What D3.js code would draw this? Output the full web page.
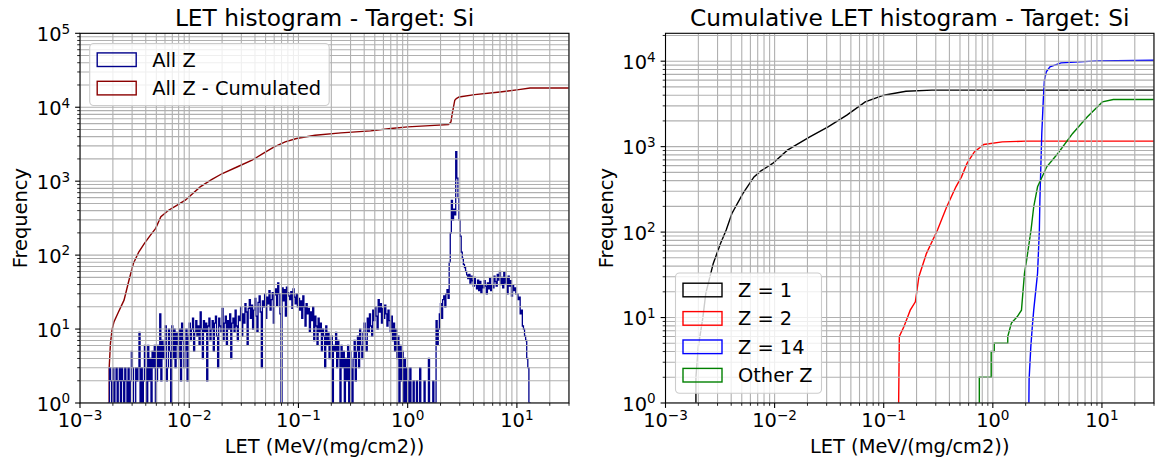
<!DOCTYPE html>
<html><head><meta charset="utf-8">
<script src="https://cdn.jsdelivr.net/npm/d3@7"></script>
<style>
body{margin:0;background:#fff;}
svg{display:block;font-family:"DejaVu Sans",sans-serif;}
</style></head><body>
<svg id="chart" width="1155" height="461"></svg>
<script>
// ---------------- data ----------------
const xDomain = [1e-3, 30];
const leftYDomain = [1, 1e5];
const rightYDomain = [1, 21200];
const xMajorTicks = [1e-3, 1e-2, 1e-1, 1, 10];
const leftYMajorTicks = [1, 10, 100, 1e3, 1e4, 1e5];
const rightYMajorTicks = [1, 10, 100, 1e3, 1e4];

const titles = ["LET histogram - Target: Si", "Cumulative LET histogram - Target: Si"];
const xLabel = "LET (MeV/(mg/cm2))";
const yLabel = "Frequency";

// All Z histogram: counts per logarithmic bin, 100 bins per decade starting at 1e-3
const histBinsPerDecade = 100;
const allZCountsD1 = [ // 1e-3 .. 1e-2
  0,0,0,0,0,0,0,0,0,0, 0,0,0,0,0,0,0,0,0,0, 0,0,0,0,0,0,1,3,2,0,
  3,1,2,3,0,2,3,1,3,2, 0,3,2,1,3,0,2,5,3,1, 0,3,2,3,9,1,3,0,2,6,
  3,1,6,2,4,1,5,3,6,0, 2,6,3,16,2,7,4,6,11,2, 3,10,5,1,11,4,10,3,9,6,
  4,10,2,12,7,3,5,10,2,8
];
const allZCountsD2 = [ // 1e-2 .. 1e-1
  12,7,10,14,5,9,13,8,11,6, 17,10,4,13,9,12,2,11,14,7,
  10,13,5,12,15,8,3,14,11,9, 19,7,12,15,6,13,10,16,4,12,
  14,9,18,11,7,15,13,20,8,16, 12,22,17,6,19,25,14,21,10,18,
  26,15,9,23,28,17,3,24,20,30, 14,27,22,33,18,25,31,12,29,35,
  21,42,30,16,1,36,24,34,15,37, 31,28,25,32,19,35,27,22,30,20
];
const allZCountsD3 = [ // 1e-1 .. 1
  26,18,24,14,28,20,11,22,16,19, 9,17,13,20,7,15,11,6,14,9,
  12,5,10,8,3,11,6,9,4,7, 8,0,6,5,9,3,7,4,0,6,
  3,5,0,4,2,6,0,5,3,0, 4,7,2,5,8,3,10,6,4,9,
  12,7,5,14,9,16,11,8,18,13, 20,15,10,25,17,22,12,19,14,21,
  16,11,18,13,9,15,7,12,5,10, 4,8,1,6,2,5,0,4,0,3
];
const allZCountsD4 = [ // 1 .. 10
  2,0,3,1,0,2,1,0,2,0, 1,3,0,1,0,2,0,1,0,4,
  0,1,0,2,1,0,13,6,10,16, 22,14,25,28,20,30,34,26,80,200,
  550,300,420,350,2500,1100,600,300,180,110, 90,75,68,60,54,48,55,42,52,45,
  38,50,40,35,46,33,44,31,40,36, 45,38,30,42,35,48,33,40,36,52,
  44,38,55,46,60,40,50,36,58,42, 48,30,52,38,45,28,40,33,36,30
];
const allZCountsD5 = [ // 10 .. 30
  30,25,27,16,18,11,10,8,7,4, 3,1,0,0,0,0,0,0,0,0,
  0,0,0,0,0,0,0,0,0,0, 0,0,0,0,0,0,0,0,0,0, 0,0,0,0,0,0,0,0
];
const allZCounts = [].concat(allZCountsD1, allZCountsD2, allZCountsD3, allZCountsD4, allZCountsD5);

// All Z cumulated: [LET, cumulative count]
const allZCumulated = [
  [1.85e-3,1],[1.85e-3,3],[1.9e-3,6.4],[1.97e-3,10],[2.05e-3,12.6],[2.25e-3,17],[2.53e-3,24.6],[2.8e-3,45],
  [3.08e-3,77],[3.45e-3,110],[3.89e-3,144],[4.4e-3,185],[4.93e-3,230],[5.5e-3,330],[6.47e-3,405],[7.5e-3,460],
  [9.2e-3,553],[1.26e-2,838],[1.6e-2,1050],[2.01e-2,1270],[2.8e-2,1580],[3.76e-2,1922],[4.8e-2,2400],[6.0e-2,2910],
  [7.56e-2,3400],[9.6e-2,3776],[0.142,4186],[0.245,4500],[0.458,4790],[0.7,5150],[1.0,5420],[1.6,5650],[2.36,5835],
  [2.49,6330],[2.56,8220],[2.70,12440],[2.79,13100],[2.96,13770],[4.1,14800],[7.0,16100],[10.4,17330],[13.2,18240],[30,18240]
];

// Cumulative per Z: [LET, cumulative count]
const z1Cum = [
  [1.9e-3,1],[1.9e-3,2],[2.0e-3,4.6],[2.2e-3,10],[2.34e-3,19.2],[2.74e-3,43],[3.2e-3,74],[3.6e-3,106],[4.06e-3,165],
  [5.13e-3,284],[6.47e-3,443],[7.5e-3,520],[9.6e-3,636],[1.31e-2,910],[2.1e-2,1302],[3.09e-2,1706],[4.59e-2,2336],
  [6.77e-2,3340],[0.1,4000],[0.16,4455],[0.277,4580],[30,4580]
];
const z2Cum = [
  [0.137,1],[0.138,2.4],[0.139,6],[0.153,7.8],[0.166,10.2],[0.175,12.2],[0.195,15.3],[0.21,30],[0.246,56],[0.311,106],
  [0.378,198],[0.459,339],[0.516,443],[0.58,636],[0.677,868],[0.826,1061],[1.22,1138],[2.0,1160],[30,1160]
];
const z14Cum = [
  [2.14,1],[2.15,1.9],[2.23,4.6],[2.3,7.8],[2.37,12.2],[2.57,33],[2.67,106],[2.70,237],[2.81,1427],[2.90,3500],
  [2.97,6000],[3.09,7500],[3.34,8570],[4.22,9550],[9.2,10090],[30,10270]
];
const otherZCum = [
  [0.752,1],[0.752,2],[0.966,2],[0.966,4],[1.03,4],[1.03,5],[1.37,5],[1.37,6],[1.48,8.6],[1.67,10.2],[1.83,12.2],
  [1.95,33],[2.04,47],[2.24,106],[2.37,198],[2.57,339],[3.12,581],[3.94,832],[5.39,1427],[7.36,2233],[10.1,3340],
  [12.7,3565],[30,3565]
];

const leftLegend = [["All Z", "#00008b"], ["All Z - Cumulated", "#8b0000"]];
const rightLegend = [["Z = 1", "#000000"], ["Z = 2", "#ff0000"], ["Z = 14", "#0000ff"], ["Other Z", "#008000"]];

// ---------------- drawing ----------------
const FS = 19.4, TITLE_FS = 23.3;
const svg = d3.select("#chart");
svg.append("rect").attr("width", 1155).attr("height", 461).attr("fill", "#fff");

function supLabel(textSel, value) {
  const e = Math.round(Math.log10(value));
  textSel.append("tspan").text("10");
  textSel.append("tspan").attr("dy", -0.38 * FS).attr("font-size", FS * 0.7)
    .text(e < 0 ? "\u2212" + (-e) : String(e));
}

function drawPanel(p) {
  const x = d3.scaleLog().domain(xDomain).range([p.x0, p.x1]);
  const y = d3.scaleLog().domain(p.yDomain).range([p.y1, p.y0]);
  const clipId = "clip" + p.id;
  svg.append("clipPath").attr("id", clipId).append("rect")
    .attr("x", p.x0).attr("y", p.y0).attr("width", p.x1 - p.x0).attr("height", p.y1 - p.y0);
  const plot = svg.append("g").attr("clip-path", `url(#${clipId})`);

  p.drawData(plot, x, y);

  // grid (major + minor), drawn above the histogram patches like matplotlib
  const grid = svg.append("g").attr("clip-path", `url(#${clipId})`)
    .attr("stroke", "#b0b0b0").attr("stroke-width", 1.1);
  const xt = x.ticks(), yt = y.ticks();
  grid.selectAll("line.gx").data(xt).join("line")
    .attr("x1", d => x(d)).attr("x2", d => x(d)).attr("y1", p.y0).attr("y2", p.y1);
  grid.selectAll("line.gy").data(yt).join("line")
    .attr("y1", d => y(d)).attr("y2", d => y(d)).attr("x1", p.x0).attr("x2", p.x1);

  // ticks
  const isMajor = v => Math.abs(Math.log10(v) - Math.round(Math.log10(v))) < 1e-6;
  const tk = svg.append("g").attr("stroke", "#000");
  tk.selectAll("line.tx").data(xt).join("line")
    .attr("x1", d => x(d)).attr("x2", d => x(d)).attr("y1", p.y1)
    .attr("y2", d => p.y1 + (isMajor(d) ? 4.9 : 2.8)).attr("stroke-width", d => isMajor(d) ? 1.1 : 0.85);
  tk.selectAll("line.ty").data(yt).join("line")
    .attr("y1", d => y(d)).attr("y2", d => y(d)).attr("x1", p.x0)
    .attr("x2", d => p.x0 - (isMajor(d) ? 4.9 : 2.8)).attr("stroke-width", d => isMajor(d) ? 1.1 : 0.85);

  // tick labels
  xMajorTicks.forEach(v => {
    const t = svg.append("text").attr("x", x(v)).attr("y", p.y1 + 24)
      .attr("text-anchor", "middle").attr("font-size", FS).attr("fill", "#000");
    supLabel(t, v);
  });
  p.yMajor.forEach(v => {
    const t = svg.append("text").attr("x", p.x0 - 9.8).attr("y", y(v) + 7.7)
      .attr("text-anchor", "end").attr("font-size", FS).attr("fill", "#000");
    supLabel(t, v);
  });

  // frame
  svg.append("rect").attr("x", p.x0).attr("y", p.y0).attr("width", p.x1 - p.x0).attr("height", p.y1 - p.y0)
    .attr("fill", "none").attr("stroke", "#000").attr("stroke-width", 1.1);

  // title & axis labels
  const cx = (p.x0 + p.x1) / 2;
  svg.append("text").attr("x", cx).attr("y", 25.5).attr("text-anchor", "middle")
    .attr("font-size", TITLE_FS).text(p.title);
  svg.append("text").attr("x", cx).attr("y", 453).attr("text-anchor", "middle")
    .attr("font-size", FS).text(xLabel);
  svg.append("text").attr("transform", `translate(${p.yLabelX},${(p.y0 + p.y1) / 2}) rotate(-90)`)
    .attr("text-anchor", "middle").attr("font-size", FS).text(yLabel);

  // legend
  const L = p.legend;
  const lg = svg.append("g");
  lg.append("rect").attr("x", L.x).attr("y", L.y).attr("width", L.w).attr("height", L.h)
    .attr("rx", 4).attr("ry", 4).attr("fill", "#fff").attr("fill-opacity", 0.8)
    .attr("stroke", "#cccccc").attr("stroke-width", 1.1);
  L.items.forEach((it, i) => {
    const cy = L.firstRow + i * 28.4;
    lg.append("rect").attr("x", L.x + 7.5).attr("y", cy - 6.8).attr("width", 39).attr("height", 13.6)
      .attr("fill", "none").attr("stroke", it[1]).attr("stroke-width", 1.4);
    lg.append("text").attr("x", L.x + 62.5).attr("y", cy + 6.8).attr("font-size", FS).text(it[0]);
  });
}

function stepHist(plot, x, y, yBottom, counts, color) {
  const lo = Math.log10(xDomain[0]);
  const edges = d3.range(counts.length + 1).map(i => Math.pow(10, lo + i / histBinsPerDecade));
  const yy = c => c > 0 ? y(c) : yBottom + 40;
  let d = `M${x(edges[0])},${yy(0)}`;
  counts.forEach((c, i) => { d += `L${x(edges[i])},${yy(c)}L${x(edges[i + 1])},${yy(c)}`; });
  d += `L${x(edges[counts.length])},${yy(0)}`;
  plot.append("path").attr("d", d).attr("fill", "none").attr("stroke", color)
    .attr("stroke-width", 1.3).attr("stroke-linejoin", "miter");
}

function cumLine(plot, x, y, pts, color) {
  const line = d3.line().x(d => x(d[0])).y(d => y(d[1]));
  plot.append("path").attr("d", line(pts)).attr("fill", "none").attr("stroke", color).attr("stroke-width", 1.4);
}

drawPanel({
  id: "L", x0: 80, x1: 569, y0: 33.3, y1: 403, yDomain: leftYDomain, yMajor: leftYMajorTicks,
  title: titles[0], yLabelX: 27,
  legend: { x: 89.7, y: 43.5, w: 239.5, h: 62, firstRow: 59.7, items: leftLegend },
  drawData: (plot, x, y) => {
    cumLine(plot, x, y, allZCumulated, "#8b0000");
    stepHist(plot, x, y, 403, allZCounts, "#00008b");
  }
});

drawPanel({
  id: "R", x0: 665.5, x1: 1154, y0: 33.3, y1: 403, yDomain: rightYDomain, yMajor: rightYMajorTicks,
  title: titles[1], yLabelX: 612.5,
  legend: { x: 675.5, y: 273, w: 146, h: 120.3, firstRow: 290, items: rightLegend },
  drawData: (plot, x, y) => {
    cumLine(plot, x, y, z1Cum, "#000000");
    cumLine(plot, x, y, z2Cum, "#ff0000");
    cumLine(plot, x, y, z14Cum, "#0000ff");
    cumLine(plot, x, y, otherZCum, "#008000");
  }
});
</script>
</body></html>
